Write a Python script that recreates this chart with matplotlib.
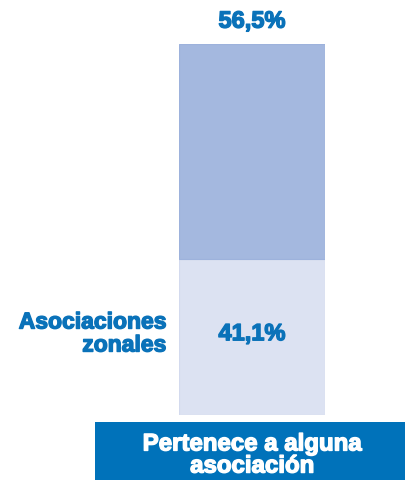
import matplotlib
matplotlib.use("Agg")
import matplotlib.pyplot as plt
from matplotlib.patches import Rectangle
import matplotlib.patheffects as pe

categories = ["Pertenece a alguna\nasociación"]
zonales = [41.1]
otras = [56.5]
top_label = "56,5%"
bottom_label = "41,1%"
series_label = "Asociaciones\nzonales"

W, H = 406, 481
fig = plt.figure(figsize=(W/100, H/100), dpi=100)
fig.patch.set_facecolor("white")
plt.rcParams['font.family'] = ['Liberation Sans', 'DejaVu Sans']

blue = "#0A72B9"
total = zonales[0] + otras[0]
ax = fig.add_axes([179/W, (H-416)/H, 146/W, 371/H])
ax.bar([0], zonales, width=1.0, color="#DCE2F2", edgecolor="#D3DAEE", linewidth=0.8)
ax.bar([0], otras, bottom=zonales, width=1.0, color="#A4B8DF", edgecolor="#9DB2DC", linewidth=0.8)
ax.set_xlim(-0.5, 0.5)
ax.set_ylim(0, total)
ax.axis("off")

def fx(c):
    return [pe.withStroke(linewidth=1.0, foreground=c)]

ax.text(0, zonales[0] * 0.52, bottom_label, ha="center", va="center",
        fontsize=17, fontweight="bold", color=blue, path_effects=fx(blue))
ax.text(0, total + 6.0, top_label, ha="center", va="center",
        fontsize=17, fontweight="bold", color=blue, clip_on=False, path_effects=fx(blue))

fig.text(166/W, 1 - 334.5/H, series_label, ha="right", va="center",
         fontsize=16.5, fontweight="bold", color=blue, linespacing=1.0, path_effects=fx(blue))

fig.patches.append(Rectangle((95/W, 0), (W-95)/W, (H-423)/H, transform=fig.transFigure,
                             facecolor="#0072BA", edgecolor="none"))
fig.text(252/W, 1 - 456/H, categories[0], ha="center", va="center",
         fontsize=17.3, fontweight="bold", color="white", linespacing=0.95, path_effects=fx("white"))

fig.savefig("out.png", dpi=100, facecolor="white")
